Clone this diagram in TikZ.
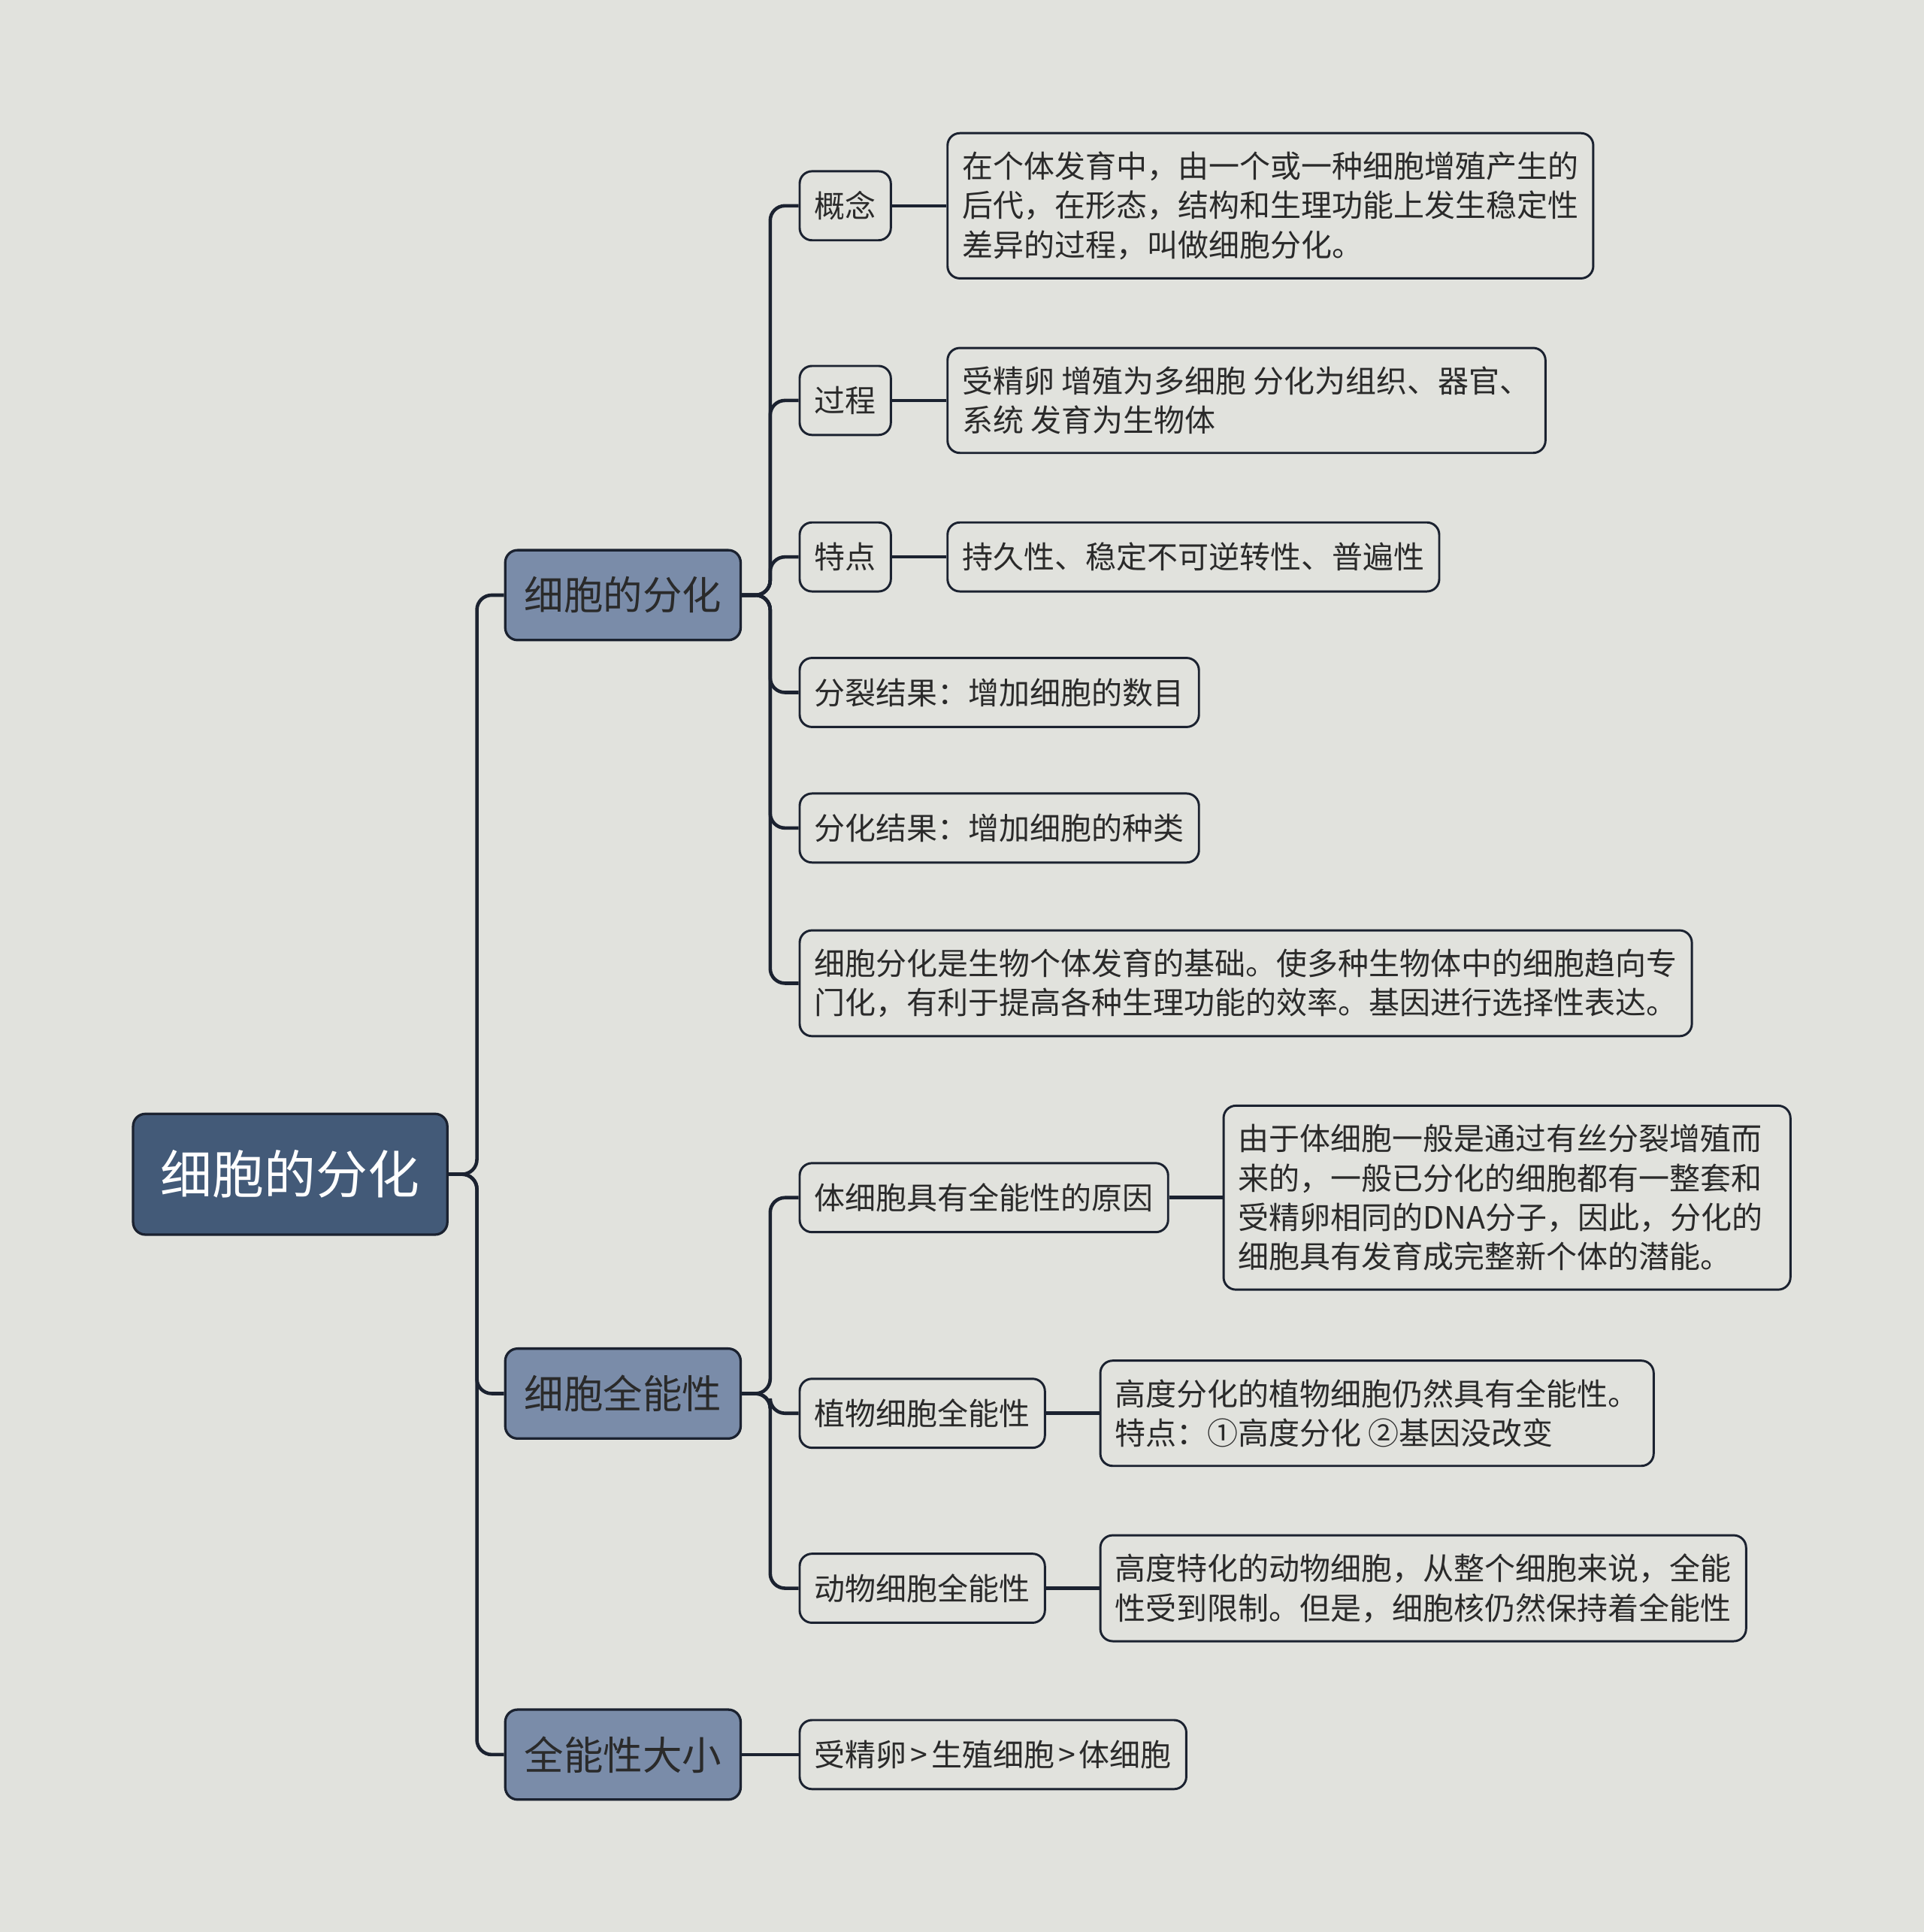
\documentclass[tikz,border=0pt]{standalone}
\usepackage{fontspec}
\setmainfont{Noto Sans CJK SC}
\usetikzlibrary{calc}
\definecolor{bgcol}{HTML}{E1E2DD}
\definecolor{rootcol}{HTML}{435A78}
\definecolor{topiccol}{HTML}{7A8CA9}
\definecolor{linecol}{HTML}{1B2230}
\definecolor{textcol}{HTML}{2A2A2A}
\tikzset{
  rootbox/.style={draw=linecol, line width=1pt, fill=rootcol, rounded corners=5pt,
      text=white, font=\fontsize{21}{25}\selectfont, minimum width=127.5pt,
      minimum height=49pt, anchor=west},
  topicbox/.style={draw=linecol, line width=1pt, fill=topiccol, rounded corners=5pt,
      text=textcol, font=\fontsize{16}{19}\selectfont, minimum width=95.5pt,
      minimum height=36.5pt, anchor=west},
  subbox/.style={draw=linecol, line width=0.9pt, fill=bgcol, rounded corners=5pt,
      text=textcol, font=\fontsize{12.5}{16}\selectfont, inner xsep=6pt, inner ysep=7.5pt,
      minimum height=28pt, align=left, anchor=west},
  link/.style={draw=linecol, line width=1.4pt, rounded corners=6pt},
}
\newcommand{\gtsign}{\kern1.5pt>\kern1.5pt}

\begin{document}
\begin{tikzpicture}[x=0.5pt, y=-0.5pt]
  \useasboundingbox[fill=bgcol] (0,0) rectangle (1561,1568);
  % root and main topics
  \node[rootbox] (root) at (107,953) {细胞的分化};
  \node[topicbox] (fenhua) at (409,483) {细胞的分化};
  \node[topicbox] (quanneng) at (409,1131) {细胞全能性};
  \node[topicbox] (daxiao) at (409,1424) {全能性大小};
  % subtopics of fenhua
  \node[subbox] (gainian) at (648,167) {概念};
  \node[subbox] (guocheng) at (648,325) {过程};
  \node[subbox] (tedian) at (648,452) {特点};
  \node[subbox] (fenlie) at (648,562) {分裂结果：增加细胞的数目};
  \node[subbox] (jieguo) at (648,672) {分化结果：增加细胞的种类};
  \node[subbox] (jichu) at (648,798) {细胞分化是生物个体发育的基础。使多种生物体中的细胞趋向专\\门化，有利于提高各种生理功能的效率。基因进行选择性表达。};
  % leaves of fenhua
  \node[subbox] (gainianL) at (768,167) {在个体发育中，由一个或一种细胞增殖产生的\\后代，在形态，结构和生理功能上发生稳定性\\差异的过程，叫做细胞分化。};
  \node[subbox] (guochengL) at (768,325) {受精卵 增殖为多细胞 分化为组织、器官、\\系统 发育为生物体};
  \node[subbox] (tedianL) at (768,452) {持久性、稳定不可逆转性、普遍性};
  % subtopics of quanneng
  \node[subbox] (yuanyin) at (648,972) {体细胞具有全能性的原因};
  \node[subbox] (zhiwu) at (648,1147) {植物细胞全能性};
  \node[subbox] (dongwu) at (648,1289) {动物细胞全能性};
  \node[subbox, text width=218pt] (yuanyinL) at (992,972) {由于体细胞一般是通过有丝分裂增殖而\\来的，一般已分化的细胞都有一整套和\\受精卵相同的DNA分子，因此，分化的\\细胞具有发育成完整新个体的潜能。};
  \node[subbox] (zhiwuL) at (892,1147) {高度分化的植物细胞仍然具有全能性。\\特点：①高度分化 ②基因没改变};
  \node[subbox] (dongwuL) at (892,1289) {高度特化的动物细胞，从整个细胞来说，全能\\性受到限制。但是，细胞核仍然保持着全能性};
  % subtopic of daxiao
  \node[subbox] (shunxu) at (648,1424) {受精卵\gtsign 生殖细胞\gtsign 体细胞};
  % connectors
  \foreach \t in {fenhua, quanneng, daxiao}
    \draw[link] (root.east) -- ++(23,0) |- (\t.west);
  \foreach \s in {gainian, guocheng, tedian, fenlie, jieguo, jichu}
    \draw[link] (fenhua.east) -- ++(23,0) |- (\s.west);
  \foreach \s in {yuanyin, zhiwu, dongwu}
    \draw[link] (quanneng.east) -- ++(23,0) |- (\s.west);
  \draw[link] (daxiao.east) -- (shunxu.west);
  \foreach \s in {gainian, guocheng, tedian, yuanyin, zhiwu, dongwu}
    \draw[link] (\s.east) -- (\s L.west);
\end{tikzpicture}
\end{document}
